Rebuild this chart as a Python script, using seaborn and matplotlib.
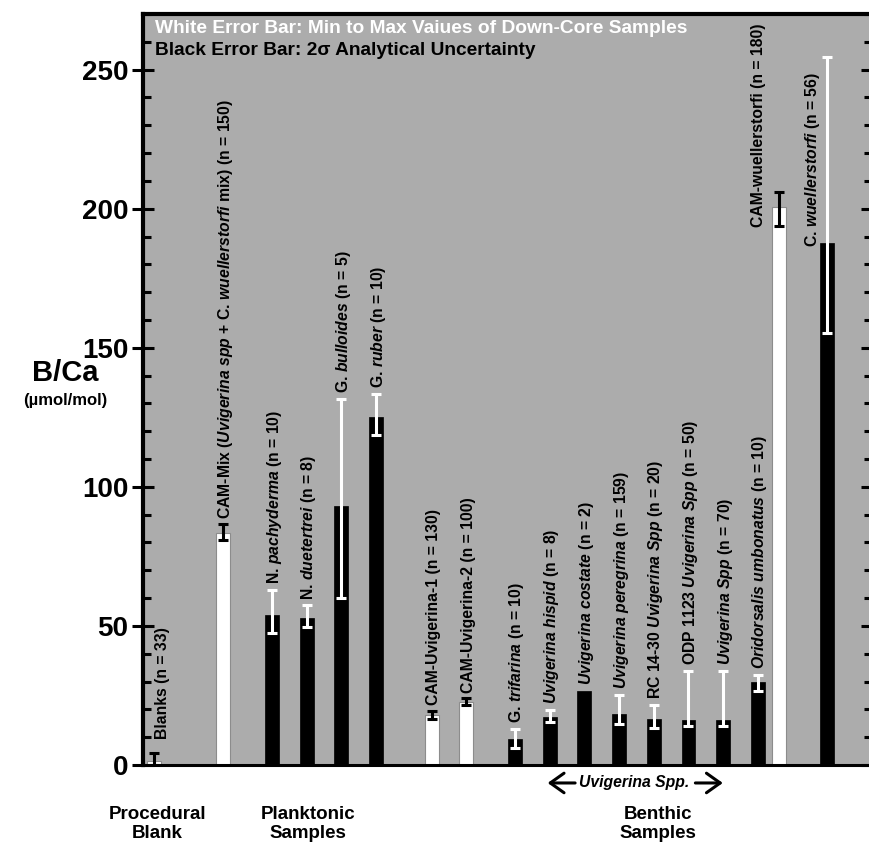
import numpy as np
import pandas as pd
import matplotlib
matplotlib.use("Agg")
import matplotlib.pyplot as plt
from matplotlib.patches import FancyArrowPatch
import seaborn as sns
from matplotlib.ticker import MultipleLocator

# --- data (B/Ca, umol/mol) ---
samples = ["Blanks", "CAM-Mix", "N. pachyderma", "N. duetertrei", "G. bulloides",
           "G. ruber", "CAM-Uvigerina-1", "CAM-Uvigerina-2", "G. trifarina",
           "U. hispid", "U. costate", "U. peregrina", "RC 14-30", "ODP 1123",
           "Uvigerina Spp", "O. umbonatus", "CAM-wuellerstorfi", "C. wuellerstorfi"]
values = [1.5, 83.5, 54, 53, 93, 125, 18, 22.7, 9.4, 17.3, 26.6, 18.3, 16.5, 16.2,
          16.2, 29.9, 200.7, 187.7]
err_low = [0, 81, 47.5, 49.5, 60, 118.7, 16.5, 21.5, 6.1, 15.5, np.nan, 14.7, 13.3,
           14, 14, 26.5, 193.6, 155.4]
err_high = [4.5, 86.5, 63, 57.5, 131.6, 133.4, 19.5, 24, 13, 19.8, np.nan, 25.2, 21.6,
            33.8, 33.8, 32.4, 206, 254.7]
kinds = ["white", "white", "black", "black", "black", "black", "white", "white",
         "black", "black", "black", "black", "black", "black", "black", "black",
         "white", "black"]
labels = [
    "Blanks (n = 33)",
    r"CAM-Mix ($\mathit{Uvigerina\ spp}$ + C. $\mathit{wuellerstorfi}$ mix) (n = 150)",
    r"N. $\mathit{pachyderma}$ (n = 10)",
    r"N. $\mathit{duetertrei}$ (n = 8)",
    r"G. $\mathit{bulloides}$ (n = 5)",
    r"G. $\mathit{ruber}$ (n = 10)",
    "CAM-Uvigerina-1 (n = 130)",
    "CAM-Uvigerina-2 (n = 100)",
    r"G. $\mathit{trifarina}$ (n = 10)",
    r"$\mathit{Uvigerina\ hispid}$ (n = 8)",
    r"$\mathit{Uvigerina\ costate}$ (n = 2)",
    r"$\mathit{Uvigerina\ peregrina}$ (n = 159)",
    r"RC 14-30 $\mathit{Uvigerina\ Spp}$ (n = 20)",
    r"ODP 1123 $\mathit{Uvigerina\ Spp}$ (n = 50)",
    r"$\mathit{Uvigerina\ Spp}$ (n = 70)",
    r"$\mathit{Oridorsalis\ umbonatus}$ (n = 10)",
    "CAM-wuellerstorfi (n = 180)",
    r"C. $\mathit{wuellerstorfi}$ (n = 56)",
]

df = pd.DataFrame({"sample": samples, "value": values, "lo": err_low,
                   "hi": err_high, "kind": kinds, "label": labels})

# category slots, with two empty spacer slots between the groups
order = samples[:1] + [" "] + samples[1:6] + ["  "] + samples[6:]

# label placement tweaks (offset points, anchored at top of error bar or bar)
label_offsets = {"Blanks": (5.8, 10, "hi"),
                 "CAM-wuellerstorfi": (-14.4, -14.4, "value"),
                 "C. wuellerstorfi": (-10.8, -2.9, "value")}

sns.set_style("ticks")
plt.rcParams["font.family"] = ["Liberation Sans", "DejaVu Sans"]
plt.rcParams["font.weight"] = "bold"
plt.rcParams["text.color"] = "black"
plt.rcParams["ytick.color"] = "black"
plt.rcParams["ytick.labelcolor"] = "black"
plt.rcParams["mathtext.fontset"] = "custom"
plt.rcParams["mathtext.it"] = "Liberation Sans:italic:bold"
plt.rcParams["mathtext.rm"] = "Liberation Sans:bold"
plt.rcParams["mathtext.bf"] = "Liberation Sans:bold"

fig = plt.figure(figsize=(8.69, 8.46), dpi=100)
ax = fig.add_axes([0.164, 0.0957, 0.8395, 0.8878])
ax.set_facecolor("#acacac")

sns.barplot(data=df, x="sample", y="value", hue="kind", order=order,
            hue_order=["white", "black"], palette={"white": "white", "black": "black"},
            errorbar=None, width=0.8, dodge=True, legend=False, ax=ax, zorder=2)

lookup = df.set_index("sample")
for bar in ax.patches:
    cx = bar.get_x() + bar.get_width() / 2
    name = order[int(round(cx))]
    row = lookup.loc[name]
    if row["kind"] == "white":
        bar.set_edgecolor("#8c8c8c")
        bar.set_linewidth(0.8)
        ecol = "black"
    else:
        bar.set_edgecolor("black")
        bar.set_linewidth(0.5)
        ecol = "white"
    v = row["value"]
    if not np.isnan(row["lo"]):
        ax.errorbar([cx], [v], yerr=[[v - row["lo"]], [row["hi"] - v]], fmt="none",
                    ecolor=ecol, elinewidth=2.2, capsize=3.8, capthick=2.2, zorder=3)
    dx, dy, anchor = label_offsets.get(name, (1.5, 4, "hi"))
    top = v if anchor == "value" else np.nanmax([v, row["hi"]])
    ax.annotate(row["label"], xy=(cx, top), xytext=(dx, dy), textcoords="offset points",
                rotation=90, ha="center", va="bottom", fontsize=11.3, fontweight="bold",
                color="black", zorder=4)

ax.set_ylim(0, 270)
ax.set_xlim(-0.53, 20.49)
ax.yaxis.set_major_locator(MultipleLocator(50))
ax.yaxis.set_minor_locator(MultipleLocator(10))
ax.tick_params(axis="x", bottom=False, labelbottom=False)
ax.tick_params(axis="y", which="major", direction="inout", length=16.5, width=2.2,
               labelsize=20, pad=2, left=True, right=True, color="black",
               labelcolor="black")
ax.tick_params(axis="y", which="minor", direction="in", length=6, width=2.2,
               left=True, right=True, color="black")
for lab in ax.get_yticklabels():
    lab.set_fontweight("bold")
ax.set_xlabel("")
ax.set_ylabel("")
for side, lw in [("left", 3), ("top", 3), ("right", 3), ("bottom", 2.2)]:
    ax.spines[side].set_visible(True)
    ax.spines[side].set_linewidth(lw)
    ax.spines[side].set_color("black")

ax.text(0.017, 0.981, "White Error Bar: Min to Max Vaiues of Down-Core Samples",
        transform=ax.transAxes, color="white", fontsize=13.8, fontweight="bold",
        va="center", ha="left")
ax.text(0.017, 0.952, "Black Error Bar: 2\u03c3 Analytical Uncertainty",
        transform=ax.transAxes, color="black", fontsize=13.8, fontweight="bold",
        va="center", ha="left")

fig.text(0.075, 0.559, "B/Ca", fontsize=21, fontweight="bold", ha="center", va="center")
fig.text(0.075, 0.527, "(\u00b5mol/mol)", fontsize=12, fontweight="bold",
         ha="center", va="center")

for x, txt in [(0.181, "Procedural\nBlank"), (0.354, "Planktonic\nSamples"),
               (0.757, "Benthic\nSamples")]:
    fig.text(x, 0.047, txt, fontsize=13.5, fontweight="bold", ha="center", va="top",
             linespacing=1.12)

fig.text(0.7296, 0.0745, "Uvigerina Spp.", fontsize=11.3, fontweight="bold",
         style="italic", ha="center", va="center")
arrow = dict(arrowstyle="->,head_length=0.45,head_width=0.32", lw=2.2, color="black",
             mutation_scale=22, transform=fig.transFigure)
fig.add_artist(FancyArrowPatch((0.665, 0.0745), (0.627, 0.0745), **arrow))
fig.add_artist(FancyArrowPatch((0.797, 0.0745), (0.835, 0.0745), **arrow))

fig.savefig("out.png", dpi=100, facecolor="white")
